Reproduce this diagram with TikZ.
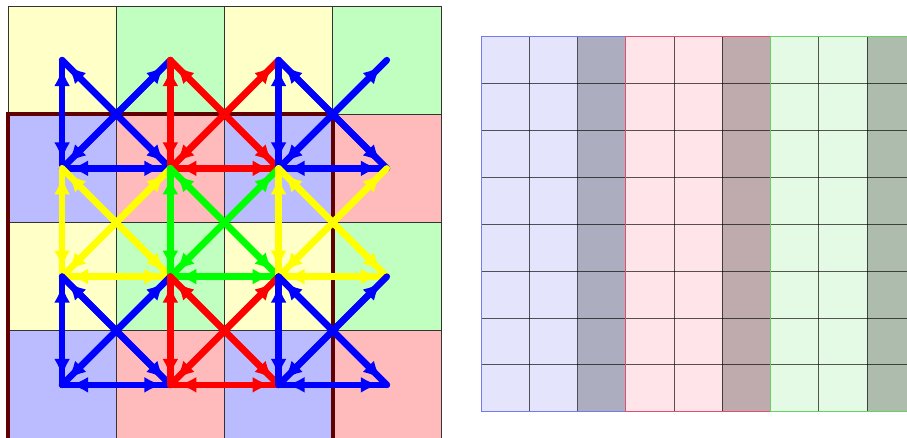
\documentclass[tikz,border=0pt]{standalone}
\usetikzlibrary{arrows.meta}
\definecolor{cell0}{RGB}{255,255,200}
\definecolor{cell1}{RGB}{192,255,192}
\definecolor{cell2}{RGB}{187,187,255}
\definecolor{cell3}{RGB}{255,187,187}
\definecolor{framered}{RGB}{96,0,0}
\definecolor{blk0}{RGB}{228,228,252}
\definecolor{blk0d}{RGB}{173,173,192}
\definecolor{blk0b}{RGB}{120,120,240}
\definecolor{blk1}{RGB}{255,228,234}
\definecolor{blk1d}{RGB}{191,170,174}
\definecolor{blk1b}{RGB}{225,80,110}
\definecolor{blk2}{RGB}{228,250,228}
\definecolor{blk2d}{RGB}{173,188,173}
\definecolor{blk2b}{RGB}{100,210,100}
\definecolor{arr0}{RGB}{0,0,255}
\definecolor{arr1}{RGB}{255,0,0}
\definecolor{arr2}{RGB}{255,255,0}
\definecolor{arr3}{RGB}{0,255,0}
\tikzset{
  gridline/.style={draw=black!80, line width=0.8pt},
  framebox/.style={draw=framered, line width=3.8pt},
  edgeline/.style={line width=6.5pt, line cap=round},
  edgearrow/.style={line width=6.5pt, {Latex[length=18pt,width=16pt]}-{Latex[length=18pt,width=16pt]}, shorten <=8pt, shorten >=8pt},
  rgline/.style={draw=black, draw opacity=0.65, line width=0.9pt},
}
\newcommand\arrowedge[3]{\draw[edgeline,#1] (#2) -- (#3); \draw[edgearrow,#1] (#2) -- (#3);}
\begin{document}
\begin{tikzpicture}[x=1pt,y=-1pt]
\useasboundingbox (0,0) rectangle (907,438);
\clip (0,0) rectangle (907,438);
% ---------- left grid cells
\foreach \r in {0,1,2,3}{
  \foreach \c in {0,1,2,3}{
    \pgfmathtruncatemacro\k{mod(\r,2)*2+mod(\c,2)}
    \pgfmathsetmacro\xa{8+108.25*\c}
    \pgfmathsetmacro\ya{6+108.25*\r}
    \fill[cell\k] (\xa,\ya) rectangle ++(108.25,108.25);
  }
}
\foreach \i in {0,1,2,3,4}{
  \pgfmathsetmacro\p{8+108.25*\i}
  \pgfmathsetmacro\q{6+108.25*\i}
  \draw[gridline] (\p,6) -- (\p,445);
  \draw[gridline] (8,\q) -- (441,\q);
}
\draw[framebox] (8,445) -- (8,114.25) -- (332.75,114.25) -- (332.75,445);
% ---------- lattice points
\foreach \i in {0,1,2,3}{
  \foreach \j in {0,1,2,3}{
    \coordinate (p\i\j) at ({62.1+108.25*\i},{60.1+108.25*\j});
  }
}
% ---------- arrow blocks (row by row)
\foreach \j/\jn in {0/1,1/2,2/3}{
  \foreach \i/\inx in {0/1,1/2,2/3}{
    \pgfmathtruncatemacro\k{ifthenelse(\j==1, 2+mod(\i,2), mod(\i,2))}
    \arrowedge{arr\k}{p\i\j}{p\i\jn}
    \arrowedge{arr\k}{p\i\jn}{p\inx\jn}
    \arrowedge{arr\k}{p\i\j}{p\inx\jn}
    \arrowedge{arr\k}{p\inx\j}{p\i\jn}
  }
}
% ---------- right grid
\foreach \b in {0,1,2}{
  \pgfmathsetmacro\bx{481+144.8*\b}
  \fill[blk\b] (\bx,37) rectangle ++(144.8,374.7);
  \fill[blk\b d] ({\bx+96.53},37) rectangle ++(48.27,374.7);
  \foreach \c in {1,2}{
    \draw[rgline] ({\bx+48.27*\c},37) -- ++(0,374.7);
  }
  \foreach \r in {1,...,7}{
    \draw[rgline] (\bx,{37+46.84*\r}) -- ++(144.8,0);
  }
  \draw[draw=blk\b b, line width=1pt] (\bx,37) rectangle ++(144.8,374.7);
}
\end{tikzpicture}
\end{document}
